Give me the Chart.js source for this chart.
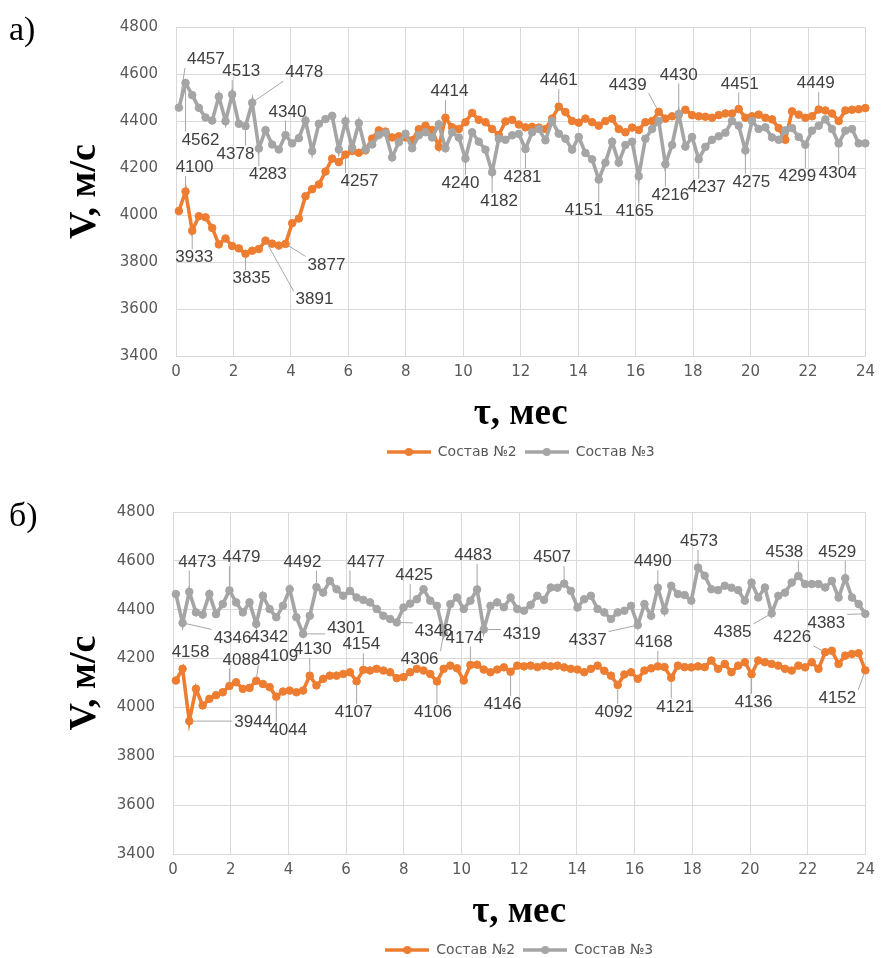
<!DOCTYPE html>
<html>
<head>
<meta charset="utf-8">
<title>V(τ)</title>
<script src="https://cdn.jsdelivr.net/npm/chart.js@4.4.1/dist/chart.umd.min.js"></script>
<style>
  html, body { margin: 0; padding: 0; background: #fff; width: 882px; height: 958px; overflow: hidden; }
  #wrap { position: relative; width: 882px; height: 958px; }
  canvas { position: absolute; left: 0; }
  .tag { position: absolute; font-family: "Liberation Serif", serif; font-size: 34px; line-height: 1; color: #000; }
</style>
</head>
<body>
<div id="wrap">
  <canvas id="chartA" width="882" height="476" style="top:0"></canvas>
  <canvas id="chartB" width="882" height="491" style="top:476px"></canvas>
  <div class="tag" style="left:9px;top:12px">а)</div>
  <div class="tag" style="left:9px;top:498px">б)</div>
</div>
<script>
// ---- data -------------------------------------------------------------
const seriesNames = ['Состав №2', 'Состав №3'];
const xTicks = [0, 2, 4, 6, 8, 10, 12, 14, 16, 18, 20, 22, 24];
const yTicks = [3400, 3600, 3800, 4000, 4200, 4400, 4600, 4800];
const xTitle = 'τ, мес';
const yTitle = 'V, м/с';

// measurements are weekly: time of measurement i in months
const firstTau = 0.1;
const stepTau = 0.232;

// panel а)
const velA2 = [
  4017, 4100, 3933, 3995, 3990, 3945, 3875, 3900, 3868, 3858,
  3835, 3848, 3855, 3891, 3878, 3870, 3877, 3965, 3985, 4080,
  4110, 4130, 4185, 4240, 4225, 4257, 4272, 4265, 4275, 4325,
  4360, 4355, 4330, 4335, 4330, 4318, 4365, 4380, 4362, 4290,
  4414, 4373, 4366, 4395, 4434, 4405, 4395, 4366, 4340, 4398,
  4405, 4385, 4373, 4375, 4372, 4366, 4410, 4461, 4438, 4400,
  4393, 4410, 4395, 4380, 4400, 4410, 4366, 4352, 4372, 4362,
  4395, 4400, 4439, 4410, 4420, 4427, 4448, 4425, 4420, 4418,
  4414, 4425, 4432, 4432, 4451, 4414, 4420, 4427, 4414, 4407,
  4370, 4320, 4441, 4427, 4414, 4420, 4449, 4445, 4432, 4400,
  4445, 4448, 4450, 4455
];
const velA3 = [
  4457, 4562, 4510, 4456, 4415, 4402, 4504, 4399, 4513, 4388,
  4378, 4478, 4283, 4361, 4300, 4279, 4340, 4305, 4327, 4402,
  4272, 4388, 4408, 4422, 4279, 4399, 4286, 4391, 4279, 4300,
  4340, 4350, 4245, 4310, 4346, 4284, 4339, 4352, 4330, 4386,
  4284, 4352, 4330, 4240, 4352, 4312, 4278, 4182, 4325, 4320,
  4339, 4345, 4281, 4352, 4366, 4318, 4400, 4346, 4325, 4278,
  4332, 4264, 4237, 4151, 4223, 4312, 4223, 4298, 4312, 4165,
  4325, 4366, 4400, 4216, 4298, 4430, 4291, 4332, 4237, 4290,
  4320, 4335, 4350, 4400, 4380, 4275, 4400, 4366, 4373, 4330,
  4320, 4360, 4370, 4332, 4299, 4359, 4380, 4407, 4366, 4304,
  4359, 4366, 4305, 4305
];

// panel б)
const velB2 = [
  4110, 4158, 3944, 4076, 4008, 4035, 4050, 4062, 4088, 4103,
  4076, 4080, 4109, 4096, 4083, 4044, 4065, 4069, 4062, 4069,
  4130, 4090, 4117, 4130, 4130, 4137, 4144, 4107, 4154, 4151,
  4158, 4151, 4144, 4120, 4124, 4144, 4158, 4151, 4137, 4106,
  4158, 4171, 4160, 4110, 4174, 4175, 4155, 4144, 4155, 4164,
  4146, 4171, 4168, 4171, 4165, 4171, 4168, 4171, 4164, 4158,
  4155, 4144, 4158, 4171, 4150, 4130, 4092, 4135, 4144, 4117,
  4151, 4160, 4168, 4165, 4121, 4171, 4165, 4164, 4168, 4165,
  4192, 4158, 4178, 4144, 4171, 4185, 4136, 4192, 4185, 4178,
  4171, 4158, 4151, 4171, 4164, 4185, 4158, 4226, 4232, 4178,
  4212, 4219, 4222, 4152
];
const velB3 = [
  4464, 4346, 4473, 4389, 4380, 4464, 4382, 4423, 4479, 4430,
  4389, 4430, 4342, 4457, 4403, 4369, 4416, 4484, 4369, 4301,
  4375, 4492, 4470, 4518, 4484, 4457, 4477, 4450, 4440, 4430,
  4403, 4375, 4362, 4348, 4409, 4425, 4443, 4484, 4437, 4416,
  4306, 4423, 4450, 4403, 4437, 4483, 4319, 4416, 4430, 4410,
  4450, 4403, 4396, 4420, 4457, 4440, 4491, 4490, 4507, 4477,
  4409, 4443, 4457, 4403, 4389, 4362, 4389, 4396, 4416, 4337,
  4423, 4375, 4490, 4396, 4498, 4464, 4460, 4437, 4573, 4539,
  4484, 4480, 4498, 4490, 4480, 4437, 4511, 4450, 4491, 4385,
  4457, 4470, 4511, 4538, 4505, 4505, 4505, 4491, 4518, 4450,
  4529, 4450, 4423, 4383
];

// which measurements carry a value label
const markA2 = [1, 2, 10, 13, 16, 25, 40, 57, 72, 84, 96];
const markA3 = [0, 1, 8, 10, 11, 12, 16, 43, 47, 52, 63, 69, 73, 75, 78, 85, 94, 99];
const markB2 = [1, 2, 8, 12, 15, 20, 27, 28, 39, 44, 50, 66, 72, 74, 86, 97, 103];
const markB3 = [1, 2, 8, 12, 19, 21, 26, 33, 35, 40, 45, 46, 58, 69, 72, 78, 89, 93, 100, 103];

// ---- label placement (pixel offset of the label centre from its marker) --
const placeA2 = [[9,-24],[2,27],[6,25],[49,59],[41,21],[14,27],[4,-26],[0,-26],[-31,-27],[1,-25],[-3,-26]];
const placeA3 = [[27,-48],[15,57],[9,-23],[-10,28],[52,-30],[9,26],[2,-23],[-5,25],[7,29],[-3,28],
                 [-15,31],[-4,35],[5,31],[0,-39],[8,28],[6,32],[-8,32],[-1,30]];
const placeB2 = [[8,-17],[64,1],[12,-26],[23,-24],[12,34],[3,-26],[-3,31],[-2,-25],[-4,31],[-6,-27],
                 [-8,33],[-4,27],[-4,-24],[4,29],[2,28],[-33,-15],[-28,28]];
const placeB3 = [[50,15],[8,-30],[12,-33],[13,13],[43,-6],[-14,-25],[16,-29],[37,9],[4,-28],[-24,27],
                 [-4,-34],[38,5],[-12,-26],[-50,15],[-5,-26],[1,-26],[-39,19],[-14,-24],[-8,-26],[-39,9]];

// ---- styling -----------------------------------------------------------
const ORANGE = '#ED7D31';
const GRAY = '#A5A5A5';
const GRID = '#D9D9D9';
const TICK = '#595959';

// value labels with leader lines
const pointLabels = {
  id: 'pointLabels',
  afterDatasetsDraw(chart, args, opts) {
    const ctx = chart.ctx;
    ctx.save();
    ctx.font = '17px "Liberation Sans"';
    ctx.textAlign = 'center';
    ctx.textBaseline = 'middle';
    (opts.sets || []).forEach(set => {
      const meta = chart.getDatasetMeta(set.dataset);
      const data = chart.data.datasets[set.dataset].data;
      set.marks.forEach((idx, k) => {
        const el = meta.data[idx];
        if (!el) return;
        const [dx, dy] = set.place[k];
        const tx = el.x + dx, ty = el.y + dy;
        const text = String(data[idx].y);
        const w = ctx.measureText(text).width + 4, h = 17;
        const nx = Math.max(tx - w / 2, Math.min(el.x, tx + w / 2));
        const ny = Math.max(ty - h / 2, Math.min(el.y, ty + h / 2));
        const d = Math.hypot(nx - el.x, ny - el.y);
        if (d > 9) {
          const ux = (nx - el.x) / d, uy = (ny - el.y) / d;
          ctx.strokeStyle = '#A6A6A6';
          ctx.lineWidth = 1;
          ctx.beginPath();
          ctx.moveTo(el.x + ux * 4, el.y + uy * 4);
          ctx.lineTo(nx, ny);
          ctx.stroke();
        }
        ctx.fillStyle = '#404040';
        ctx.fillText(text, tx, ty);
      });
    });
    ctx.restore();
  }
};

// legend glyph: short line with a marker in the middle
function legendGlyph(color) {
  const c = document.createElement('canvas');
  c.width = 44; c.height = 10;
  const g = c.getContext('2d');
  g.strokeStyle = color; g.lineWidth = 3.5;
  g.beginPath(); g.moveTo(0, 5); g.lineTo(44, 5); g.stroke();
  g.fillStyle = color;
  g.beginPath(); g.arc(22, 5, 4, 0, Math.PI * 2); g.fill();
  return c;
}

function series(values, color, name, order) {
  return {
    label: name,
    data: values.map((v, i) => ({ x: +(firstTau + i * stepTau).toFixed(3), y: v })),
    borderColor: color,
    backgroundColor: color,
    pointBackgroundColor: color,
    pointBorderColor: color,
    borderWidth: 3.6,
    pointRadius: 3.8,
    pointBorderWidth: 1,
    tension: 0,
    clip: 8,
    order: order
  };
}

function buildPanel(canvasId, v2, v3, labelSets, geom) {
  return new Chart(document.getElementById(canvasId), {
    type: 'line',
    data: {
      datasets: [
        series(v2, ORANGE, seriesNames[0], 1),
        series(v3, GRAY, seriesNames[1], 0)
      ]
    },
    options: {
      responsive: false,
      animation: false,
      devicePixelRatio: 1,
      layout: { padding: { left: 0, right: geom.right, top: geom.top, bottom: geom.bottom } },
      scales: {
        x: {
          type: 'linear',
          min: xTicks[0],
          max: xTicks[xTicks.length - 1],
          afterBuildTicks: s => { s.ticks = xTicks.map(v => ({ value: v })); },
          afterFit: s => { s.height = geom.xh; },
          grid: { color: GRID, lineWidth: 1, drawTicks: false },
          border: { color: GRID },
          ticks: { padding: 7, color: TICK, font: { family: 'DejaVu Sans', size: 15 },
                   callback: v => String(v) },
          title: {
            display: true, text: xTitle, color: '#000',
            font: { family: 'Liberation Serif', size: 37, weight: 'bold' },
            padding: { top: 0, bottom: 0 }
          }
        },
        y: {
          min: yTicks[0],
          max: yTicks[yTicks.length - 1],
          afterBuildTicks: s => { s.ticks = yTicks.map(v => ({ value: v })); },
          afterFit: s => { s.width = geom.yw; },
          grid: { color: GRID, lineWidth: 1, drawTicks: false },
          border: { color: GRID },
          ticks: { padding: 18, color: TICK, font: { family: 'DejaVu Sans', size: 15 },
                   callback: v => String(v) },
          title: {
            display: true, text: yTitle, color: '#000',
            font: { family: 'Liberation Serif', size: 38, weight: 'bold' },
            padding: { top: geom.ytitle, bottom: 0 }
          }
        }
      },
      plugins: {
        legend: {
          position: 'bottom',
          fullSize: false,
          labels: {
            usePointStyle: true,
            pointStyleWidth: 44,
            boxHeight: 10,
            padding: 8,
            color: TICK,
            font: { family: 'DejaVu Sans', size: 14 },
            sort: (a, b) => a.datasetIndex - b.datasetIndex,
            generateLabels: chart => {
              const items = Chart.defaults.plugins.legend.labels.generateLabels(chart);
              items.forEach(it => {
                it.pointStyle = legendGlyph(chart.data.datasets[it.datasetIndex].borderColor);
              });
              return items;
            }
          }
        },
        tooltip: { enabled: false },
        pointLabels: { sets: labelSets }
      }
    },
    plugins: [pointLabels]
  });
}

buildPanel('chartA', velA2, velA3, [
  { dataset: 0, marks: markA2, place: placeA2 },
  { dataset: 1, marks: markA3, place: placeA3 }
], { top: 16, right: 13, bottom: 7, xh: 81, yw: 176, ytitle: 62 });

buildPanel('chartB', velB2, velB3, [
  { dataset: 0, marks: markB2, place: placeB2 },
  { dataset: 1, marks: markB3, place: placeB3 }
], { top: 36, right: 14, bottom: 0, xh: 81, yw: 173, ytitle: 62 });
</script>
</body>
</html>
